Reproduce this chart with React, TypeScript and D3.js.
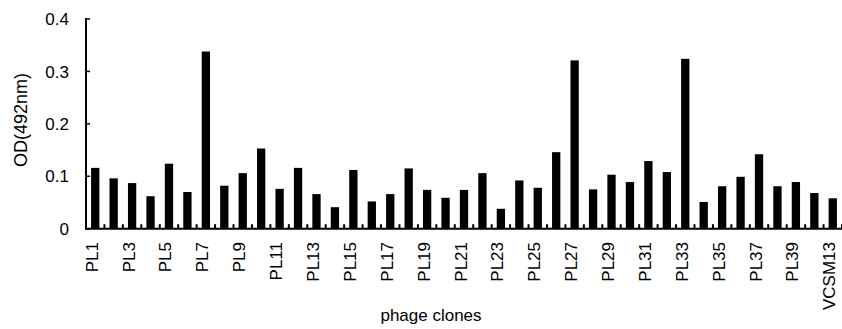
import React from "react";
import * as d3 from "d3";

const categories: string[] = [
  "PL1","PL2","PL3","PL4","PL5","PL6","PL7","PL8","PL9","PL10",
  "PL11","PL12","PL13","PL14","PL15","PL16","PL17","PL18","PL19","PL20",
  "PL21","PL22","PL23","PL24","PL25","PL26","PL27","PL28","PL29","PL30",
  "PL31","PL32","PL33","PL34","PL35","PL36","PL37","PL38","PL39","PL40",
  "VCSM13",
];

const odValues: number[] = [
  0.116, 0.096, 0.087, 0.062, 0.124, 0.070, 0.338, 0.082, 0.106, 0.153,
  0.076, 0.116, 0.066, 0.041, 0.112, 0.052, 0.066, 0.115, 0.074, 0.059,
  0.074, 0.106, 0.038, 0.092, 0.078, 0.146, 0.321, 0.075, 0.103, 0.089,
  0.129, 0.108, 0.324, 0.051, 0.081, 0.099, 0.142, 0.081, 0.089, 0.068,
  0.058,
];

const yTicks: number[] = [0, 0.1, 0.2, 0.3, 0.4];
const yTickLabels: string[] = ["0", "0.1", "0.2", "0.3", "0.4"];
const shownLabels: string[] = categories.filter((_, i) => i % 2 === 0);

const W = 842;
const H = 329;
const FONT = "'Liberation Sans', Arial, sans-serif";

export default function App() {
  const x = d3.scaleBand<string>().domain(categories).range([86, 842]).paddingInner(0.55).paddingOuter(0.275);
  const xb = d3.scaleBand<string>().domain(categories).range([86, 842]);
  const y = d3.scaleLinear().domain([0, 0.4]).range([228.7, 19]);
  const y0 = y(0);

  return (
    <svg
      width={W}
      height={H}
      style={{ position: "absolute", left: 0, top: 0, background: "#fff" }}
      fontFamily={FONT}
    >
      <rect x={0} y={0} width={W} height={H} fill="#fff" />
      {categories.map((c, i) => (
        <rect
          key={c}
          x={x(c)}
          y={y(odValues[i])}
          width={x.bandwidth()}
          height={y0 - y(odValues[i])}
          fill="#000"
        />
      ))}
      {/* x axis boundary ticks */}
      {categories.map((c) => (
        <line
          key={"t" + c}
          x1={(xb(c) as number) + xb.bandwidth()}
          x2={(xb(c) as number) + xb.bandwidth()}
          y1={y0}
          y2={y0 - 4.5}
          stroke="#000"
          strokeWidth={2}
        />
      ))}
      {/* y ticks */}
      {yTicks.map((t) => (
        <line key={"yt" + t} x1={86} x2={90} y1={y(t)} y2={y(t)} stroke="#000" strokeWidth={1.5} />
      ))}
      <line x1={86} x2={86} y1={y(0.4) - 1} y2={y0 + 1} stroke="#000" strokeWidth={2} />
      <line x1={85} x2={842} y1={y0} y2={y0} stroke="#000" strokeWidth={2} />
      {yTicks.map((t, i) => (
        <text key={"yl" + t} x={69} y={y(t)} dy="0.36em" textAnchor="end" fontSize={17} fill="#000">
          {yTickLabels[i]}
        </text>
      ))}
      {shownLabels.map((c) => {
        const cx = (xb(c) as number) + xb.bandwidth() / 2 + 2.5;
        return (
          <text
            key={"xl" + c}
            transform={`translate(${cx},242) rotate(-90)`}
            textAnchor="end"
            fontSize={17}
            fill="#000"
          >
            {c}
          </text>
        );
      })}
      <text
        transform={`translate(27,120) rotate(-90)`}
        textAnchor="middle"
        fontSize={18}
        fill="#000"
      >
        OD(492nm)
      </text>
      <text x={431} y={321} textAnchor="middle" fontSize={17} fill="#000">
        phage clones
      </text>
    </svg>
  );
}
